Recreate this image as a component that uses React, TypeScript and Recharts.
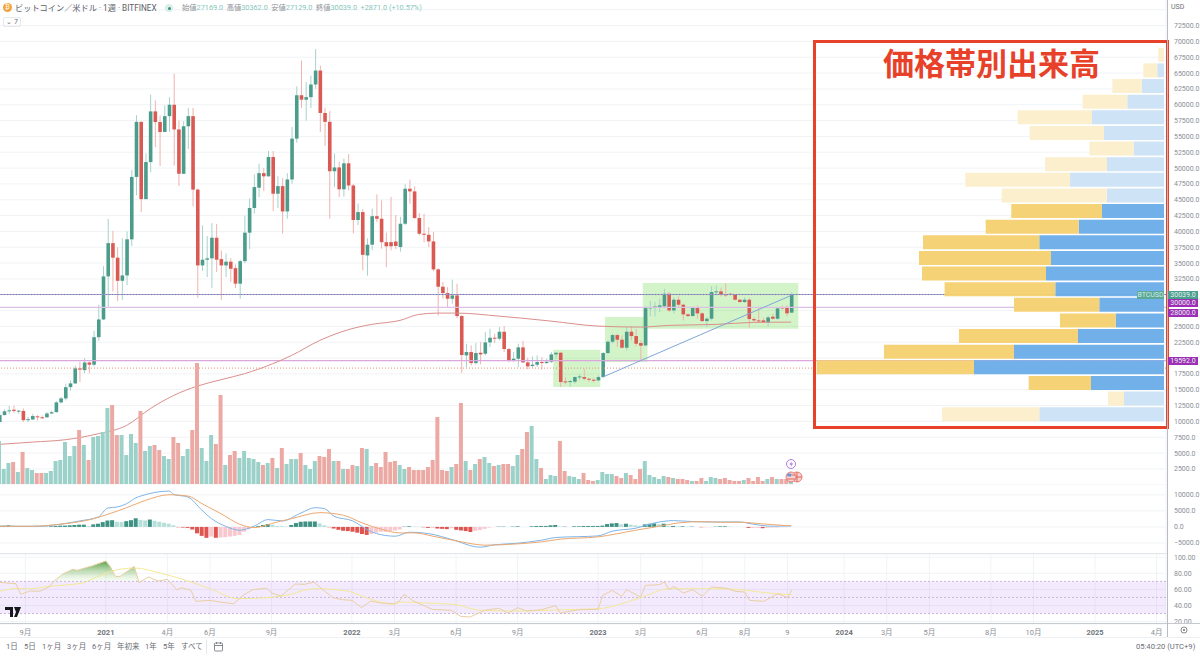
import {
  Area,
  Bar,
  BarChart,
  CartesianGrid,
  Cell,
  ComposedChart,
  Line,
  ReferenceArea,
  ReferenceLine,
  XAxis,
  YAxis,
} from 'recharts';

const FONT = 'Roboto, "Noto Sans CJK JP", sans-serif';
const WEEK_COUNT = 248;

// weekly candles
const candleOpen = [
  9900, 11000, 11600, 11850, 11650, 11650, 10200, 10300, 10800, 10650,
  10650, 11250, 11470, 13000, 13630, 15420, 16000, 18370, 18100, 19300,
  18950, 23300, 26100, 32900, 38150, 35850, 32200, 33050, 38750, 48600,
  57300, 45100, 50950, 58950, 57270, 55700, 58200, 60000, 56100, 49100,
  56600, 58200, 46600, 34630, 35530, 35750, 39000, 35630, 34630, 35220,
  34200, 31750, 35300, 39800, 43700, 46900, 49200, 48700, 51750, 45950,
  47150, 43150, 48200, 54650, 61500, 60800, 61200, 63200, 65400, 58700,
  57300, 49500, 50100, 46650, 50750, 47250, 41800, 43050, 36200, 37900,
  42400, 42000, 38300, 38300, 38400, 37528, 41212, 46738, 46317, 42107,
  39633, 39470, 38423, 34002, 31265, 30265, 29370, 29896, 26633, 20424,
  20950, 19212, 20842, 20686, 22475, 23213, 23055, 24160, 21423, 19528,
  19897, 21687, 19318, 18739, 18950, 19370, 19212, 19423, 20581, 20842,
  16318, 16213, 16266, 17000, 17000, 16740, 16580, 16477, 17000, 20792,
  22581, 23634, 22897, 21634, 24160, 23476, 22370, 22002, 27845, 27897,
  28055, 28160, 30160, 27528, 29213, 28423, 26897, 26633, 28055, 27055,
  25844, 26213, 30423, 30529, 30055, 30160, 30000, 29213, 28844, 29213,
  26160, 25950, 25950, 25686, 26528, 26213, 28055, 27950, 27169,
];
const candleHigh = [
  11400, 11900, 12450, 12480, 11800, 12050, 10700, 11200, 11000, 10950,
  11500, 11700, 13200, 13850, 15950, 16480, 18800, 19450, 20000, 19450,
  24300, 28400, 34500, 42000, 40100, 37500, 38900, 40000, 49700, 58350,
  57300, 52300, 61600, 60700, 58300, 59900, 61200, 64900, 57500, 57400,
  59500, 59500, 46800, 40950, 39250, 41300, 41200, 37000, 36500, 35800,
  34800, 35500, 42500, 45200, 49000, 50700, 50000, 52700, 52700, 48700,
  48400, 49200, 56500, 62900, 67000, 63600, 64600, 68800, 66200, 59500,
  59000, 52300, 51000, 51500, 52200, 47500, 44400, 43500, 38900, 43600,
  45850, 44900, 39800, 45450, 42600, 42300, 47528, 48160, 47100, 42900,
  42790, 40686, 39900, 34200, 32000, 31200, 32370, 31740, 26800, 22265,
  22000, 22370, 22530, 24107, 24634, 23845, 24897, 25055, 21630, 20950,
  22265, 22687, 20055, 20266, 20424, 20160, 19897, 20950, 20950, 20950,
  16953, 16581, 17107, 17423, 18318, 16896, 16896, 17265, 20950, 22792,
  23845, 23845, 23581, 24897, 25000, 24634, 22792, 28160, 29000, 28844,
  29370, 30950, 30423, 29633, 29738, 28581, 27107, 28160, 28318, 27265,
  26476, 31370, 31476, 31107, 31845, 30265, 30160, 29370, 29633, 29528,
  26476, 28055, 26371, 26739, 26997, 28055, 28318, 28318, 30362,
];
const candleLow = [
  9900, 10950, 11150, 11350, 11200, 9900, 9900, 10250, 10150, 10400,
  10550, 11200, 11350, 12800, 13300, 14850, 15900, 16200, 17600, 17600,
  18700, 22700, 26000, 27900, 30500, 29000, 29200, 31500, 37700, 45700,
  43050, 45100, 49350, 53300, 50300, 55700, 55700, 50400, 47150, 49100,
  53000, 43950, 29500, 33800, 32800, 31050, 33600, 29200, 32800, 32000,
  31050, 29350, 35000, 37200, 42800, 45400, 46350, 48600, 43200, 43700,
  39650, 42000, 47500, 54000, 59500, 57500, 59500, 62500, 55700, 53500,
  42000, 47000, 45400, 45500, 46500, 39700, 41000, 33850, 33000, 37000,
  41500, 37270, 34350, 37000, 37200, 36800, 41000, 44370, 42000, 39400,
  38300, 37528, 33700, 26700, 29370, 27950, 28580, 26300, 17633, 18580,
  18850, 19002, 19000, 20424, 21739, 22370, 22791, 20950, 19370, 19423,
  18580, 19212, 18213, 18476, 18580, 18160, 19107, 19212, 19897, 15424,
  15844, 15424, 15949, 16581, 16476, 16213, 16160, 16372, 16897, 20686,
  22265, 21739, 21476, 21213, 22791, 21845, 19529, 21845, 26580, 26580,
  27265, 28055, 27265, 27002, 28055, 25949, 26476, 26580, 26213, 25686,
  24897, 25949, 29896, 29738, 29633, 29896, 29107, 28791, 28686, 24792,
  25686, 25528, 25528, 24997, 26055, 26055, 27633, 26581, 27129,
];
const candleClose = [
  11000, 11600, 11750, 11650, 11700, 10200, 10350, 10850, 10650, 10600,
  11250, 11450, 13000, 13630, 15400, 16000, 18370, 18180, 19300, 18950,
  23300, 26100, 32900, 38150, 35850, 32200, 33050, 38750, 48600, 57300,
  45100, 50950, 58950, 57270, 55700, 58200, 60000, 56100, 49100, 56600,
  58200, 46600, 34630, 35530, 35750, 39000, 35530, 34630, 35220, 34100,
  31750, 35300, 39800, 43700, 47000, 49200, 48700, 51750, 45950, 47150,
  43150, 48200, 54650, 61500, 60800, 61200, 63200, 65400, 58700, 57300,
  49500, 50100, 46650, 50750, 47250, 41800, 43050, 36300, 37900, 42400,
  42000, 38300, 37650, 37650, 37700, 41212, 46738, 46317, 42107, 39633,
  39470, 38423, 34002, 31265, 30265, 29370, 29896, 26633, 20476, 20950,
  19212, 20792, 20580, 22475, 23213, 23055, 24160, 21423, 19528, 19897,
  21687, 19318, 18686, 18950, 19370, 19212, 19423, 20581, 20842, 16213,
  16160, 16370, 17000, 17100, 16740, 16580, 16424, 17000, 20792, 22581,
  23634, 22897, 21634, 24160, 23476, 22265, 21950, 27897, 28055, 28160,
  28318, 30160, 27528, 29213, 28423, 26897, 26633, 28055, 27055, 25844,
  26213, 30423, 30529, 30055, 30000, 30000, 29213, 28844, 29213, 26160,
  25950, 25844, 25686, 26423, 26213, 27844, 27845, 27055, 30039,
];
const volumes = [
  43, 15, 21, 22, 12, 32, 16, 14, 11, 11, 11, 13, 23, 24, 42, 28, 38, 54, 39, 24,
  47, 48, 52, 76, 79, 49, 49, 29, 50, 41, 73, 33, 38, 39, 34, 28, 25, 47, 41, 28,
  35, 54, 121, 36, 23, 49, 40, 89, 19, 29, 33, 26, 33, 26, 25, 22, 19, 21, 26, 16,
  36, 20, 25, 25, 31, 19, 15, 23, 28, 27, 35, 23, 23, 15, 15, 19, 18, 36, 35, 18,
  21, 17, 32, 22, 23, 19, 15, 17, 14, 14, 14, 17, 24, 67, 14, 13, 17, 20, 81, 23,
  14, 20, 25, 27, 21, 18, 19, 20, 20, 18, 29, 35, 52, 58, 25, 16, 5, 9, 8, 43,
  13, 8, 7, 5, 11, 4, 3, 4, 12, 10, 10, 8, 6, 11, 9, 5, 15, 23, 9, 7,
  5, 8, 7, 6, 5, 5, 4, 3, 3, 6, 3, 7, 6, 5, 6, 4, 3, 3, 4, 6,
  3, 7, 3, 5, 7, 5, 5, 5, 4,
];

const maWeeks = [0, 7, 14, 21, 27, 32, 37, 42, 47, 52, 58, 62, 68, 74, 79, 85, 89, 93, 97, 106, 117, 127, 136, 142, 152, 160, 168];
const maValues = [6368, 6731, 7110, 8058, 9368, 12005, 14105, 15574, 16584, 17532, 19111, 20421, 22790, 24479, 25316, 25948, 26895, 27100, 27100, 26627, 25838, 25048, 24890, 25158, 25316, 25632, 25680];

const macdHist = [
  400, 400, 500, 400, 200, 100, 100, 100, 100, 100, 100, 200, 300, 400, 400, 500, 600, 700, 700, 300,
  800, 1000, 1500, 2000, 2100, 1600, 1500, 1800, 2100, 2700, 2200, 2000, 2300, 1900, 1600, 1300, 1000, 500, -100, -200,
  -300, -800, -2000, -2800, -3400, -3000, -3400, -3300, -3200, -3000, -2800, -2500, -1500, -700, -200, 300, 600, 900, 700, 300,
  200, 100, 600, 1200, 1600, 1700, 1700, 1700, 1100, 500, -100, -500, -900, -1200, -1300, -1500, -1800, -2200, -2500, -2200,
  -1800, -1500, -1500, -1300, -1100, -800, 100, 200, 100, 50, -100, -300, -300, -500, -600, -700, -400, -900, -1100, -1300,
  -1600, -1200, -1000, -600, -200, 0, 100, 100, 0, 100, 200, 0, 0, 200, 300, 300, 300, 500, 600, 100,
  100, 0, 200, 200, 300, 300, 300, 300, 400, 900, 1100, 1200, 800, 1000, 700, 500, 300, 800, 1000, 1100,
  800, 1000, 300, 300, 200, 200, 100, 100, 0, -100, -100, -100, 100, 200, 200, 100, 0, 0, 0, -300,
  -300, -300, -400, -300, -200, -200, -100, -100, 0,
];
const macdWeeks = [0, 7, 13, 17, 21, 23, 25, 27, 29, 30, 33, 36, 37, 40, 43, 45, 48, 51, 54, 57, 60, 64, 67, 69, 71, 75, 78, 80, 84, 87, 91, 96, 102, 105, 110, 115, 118, 127, 130, 135, 139, 143, 149, 153, 157, 160, 164, 168];
const macdValues = [207, 207, 828, 1863, 3105, 5900, 6210, 7245, 9108, 9626, 10764, 11178, 10143, 9315, 5175, 2588, 207, -1035, 207, 2277, 1863, 4347, 6003, 5693, 3312, 1863, -828, -2070, -2898, -1656, -2070, -3933, -6314, -5589, -5072, -4140, -3312, -2795, -1346, -414, 1242, 1967, 1553, 1553, 1553, 828, 207, 311];
const signalWeeks = [0, 7, 14, 18, 23, 27, 31, 36, 40, 43, 47, 51, 54, 59, 62, 68, 73, 77, 81, 85, 88, 92, 98, 103, 110, 115, 119, 127, 135, 140, 144, 149, 153, 157, 162, 168];
const signalValues = [207, 207, 1035, 1863, 3933, 6003, 8280, 10040, 9626, 7245, 4140, 828, -207, 1553, 2588, 4451, 3623, 1242, -725, -1863, -1863, -2898, -4658, -5693, -5279, -4658, -3830, -3105, -1035, 207, 1242, 1656, 1449, 1449, 932, 311];

const rsiWeeks = [0, 2, 4, 5, 7, 9, 11, 12, 14, 16, 17, 18, 20, 23, 24, 25, 26, 29, 30, 32, 34, 36, 38, 39, 41, 42, 45, 47, 50, 52, 54, 57, 58, 60, 63, 65, 67, 69, 71, 73, 75, 77, 79, 81, 84, 85, 86, 88, 92, 96, 98, 100, 103, 106, 108, 110, 112, 115, 118, 119, 123, 127, 128, 130, 132, 133, 136, 137, 140, 141, 142, 143, 145, 147, 149, 151, 154, 156, 158, 159, 162, 165, 167, 168];
const rsiValues = [69.2, 67.9, 67.1, 53.9, 58, 57.6, 63, 70, 79.5, 84.9, 83.7, 85.7, 89, 95.3, 87.8, 76.2, 76.2, 88.6, 68.3, 75.4, 70.4, 72.5, 59.6, 62.1, 58.8, 45.2, 46.4, 44.3, 42.3, 52.6, 59.6, 61.7, 55.5, 51.8, 66.7, 66.3, 69.2, 58.8, 49.7, 47.2, 46.4, 37.3, 45.6, 43.1, 42.3, 45.2, 53.9, 45.6, 35.2, 34, 26.5, 25.7, 34, 36.5, 30.7, 37.3, 33.1, 34.8, 39.8, 30.7, 34.8, 35.2, 52.6, 58.8, 51.4, 59.6, 50.5, 65, 65.9, 69.2, 59.6, 63.8, 55.5, 59.6, 51.4, 63, 61.7, 57.6, 56.7, 46.4, 45.2, 54.7, 49.7, 59.6];
const rsiMaWeeks = [0, 4, 7, 11, 18, 21, 25, 29, 35, 40, 45, 51, 57, 61, 67, 74, 78, 84, 85, 89, 97, 102, 110, 120, 127, 136, 142, 149, 156, 163, 168];
const rsiMaValues = [56.7, 60.9, 60.9, 63.8, 67.9, 75.4, 83.7, 86.6, 79.5, 71.2, 60.9, 48.5, 49.7, 52.6, 60.9, 58, 49.7, 41.4, 44.3, 43.5, 41, 34, 33.1, 34.8, 36, 49.7, 60.9, 60.9, 60.1, 55.5, 53.4];

// volume by price, top row first
const profileBands = [68000, 65500, 63000, 60500, 58000, 55600, 53100, 50600, 48100, 45600, 43200, 40700, 38200, 35700, 33200, 30800, 28300, 25800, 23300, 20800, 18400, 15900, 13400, 10900];
const profileBuy = [0, 6.7, 22.3, 36.7, 72, 60, 30.3, 57, 94, 57.3, 62, 85.3, 124.7, 113, 118, 108.7, 64.7, 48.3, 86, 150, 190, 73, 40, 124.7];
const profileSell = [5.7, 14, 29.3, 44.7, 74.3, 74.3, 44.3, 62, 104.7, 105, 90.7, 93, 116.3, 132, 124, 110.7, 85.3, 55.7, 119, 130, 157.3, 62.3, 16, 97.3];
const valueAreaBands = [43200, 40700, 38200, 35700, 33200, 30800, 28300, 25800, 23300, 20800, 18400, 15900];

// 30000, 27500 and 20000 sit under the price tags, so they only get a grid line
const priceTicks = [72500, 70000, 67500, 65000, 62500, 60000, 57500, 55000, 52500, 50000, 47500, 45000, 42500, 40000, 37500, 35000, 32500, 25000, 22500, 17500, 15000, 12500, 10000, 7500, 5000, 2500];
const priceGrid = [75000, 72500, 70000, 67500, 65000, 62500, 60000, 57500, 55000, 52500, 50000, 47500, 45000, 42500, 40000, 37500, 35000, 32500, 30000, 27500, 25000, 22500, 20000, 17500, 15000, 12500, 10000, 7500, 5000, 2500];
const macdTicks = [10000, 5000, 0, -5000];
const rsiTicks = [100, 80, 60, 40, 20];
const axisWeeks = [6, 23, 36, 45, 58, 75, 84, 97, 110, 127, 136, 149, 158, 167, 179, 188, 197, 210, 219, 232, 245];
const axisLabels = ['9月', '2021', '4月', '6月', '9月', '2022', '3月', '6月', '9月', '2023', '3月', '6月', '8月', '9', '2024', '3月', '5月', '8月', '10月', '2025', '4月'];
const rangeLabels = ['1日', '5日', '1ヶ月', '3ヶ月', '6ヶ月', '年初来', '1年', '5年', 'すべて'];
const rangeLefts = [6, 24, 42, 67, 92, 117, 145, 163, 181];
const ohlcLabels = ['始値', '高値', '安値', '終値'];
const ohlcValues = ['27169.0', '30362.0', '27129.0', '30039.0'];

const pick = (weeks: number[], values: number[], week: number) => {
  const at = weeks.indexOf(week);
  return at < 0 ? null : values[at];
};

const rows = Array.from({ length: WEEK_COUNT }, (_, week) => {
  const hasCandle = week < candleOpen.length;
  const rsi = pick(rsiWeeks, rsiValues, week);
  return {
    week,
    open: hasCandle ? candleOpen[week] : null,
    close: hasCandle ? candleClose[week] : null,
    high: hasCandle ? candleHigh[week] : null,
    low: hasCandle ? candleLow[week] : null,
    range: hasCandle ? [candleLow[week], candleHigh[week]] : null,
    volume: hasCandle ? volumes[week] : null,
    ma: pick(maWeeks, maValues, week),
    hist: hasCandle ? macdHist[week] : null,
    macd: pick(macdWeeks, macdValues, week),
    signal: pick(signalWeeks, signalValues, week),
    rsi,
    rsiMa: pick(rsiMaWeeks, rsiMaValues, week),
    rsiOver: rsi !== null && week >= 12 && week <= 30 ? [70, Math.max(rsi, 70)] : null,
  };
});

const profileRows = profileBands.map((band, i) => ({
  band,
  buy: profileBuy[i],
  sell: profileSell[i],
}));

const histColor = (i: number) => {
  const h = macdHist[i];
  const prev = i > 0 ? macdHist[i - 1] : 0;
  if (h >= 0) return h >= prev ? '#3f9283' : '#b5dfd9';
  return h < prev ? '#e0544f' : '#f9c8cf';
};

function Candle(props: any) {
  const { x, y, width, height, payload } = props;
  if (!payload || payload.open === null || !Number.isFinite(y)) return <g />;
  const up = payload.close >= payload.open;
  const unit = Math.abs(height) / (payload.high - payload.low);
  const top = Math.min(y, y + height);
  const bodyTop = top + (payload.high - Math.max(payload.open, payload.close)) * unit;
  const bodyHeight = Math.max(Math.abs(payload.close - payload.open) * unit, 1);
  return (
    <g>
      <rect x={x + width / 2 - 0.5} y={top} width={1} height={Math.abs(height)} fill={up ? '#a6d3cb' : '#f0b3ae'} />
      <rect x={x} y={bodyTop} width={width} height={bodyHeight} fill={up ? '#4c9c8c' : '#da5a53'} />
    </g>
  );
}

function TimeTick(props: any) {
  const { x, y, payload } = props;
  const label = axisLabels[axisWeeks.indexOf(payload.value)];
  const isYear = label && label.length === 4;
  return (
    <text x={x} y={y + 3} textAnchor="middle" fontSize={7.5} fontFamily={FONT} fontWeight={isYear ? 700 : 400} fill={isYear ? '#70747c' : '#8a8e96'}>
      {label}
    </text>
  );
}

const tickStyle = { fontSize: 7, fill: '#8a8e96', fontFamily: FONT };
const GRID = '#f0f3f6';

function Tag({ top, left, width, color, text, fg = '#e9f3f0' }: any) {
  return (
    <div style={{ position: 'absolute', top, left, width, height: 8, background: color, color: fg, fontSize: 7, lineHeight: '8px', textAlign: 'center', fontFamily: FONT }}>
      {text}
    </div>
  );
}

function Panes() {
  return (
    <>
      <div style={{ position: 'absolute', left: -3, top: 0 }}>
        <ComposedChart width={1203} height={484} data={rows} margin={{ top: 0, right: 0, bottom: 0, left: 0 }}>
          <CartesianGrid stroke={GRID} strokeWidth={1} yAxisId="price" horizontalValues={priceGrid} />
          <XAxis dataKey="week" ticks={axisWeeks} interval={0} tick={false} axisLine={false} tickLine={false} height={0} />
          <YAxis yAxisId="price" orientation="right" width={34} domain={[116, 76539]} ticks={priceTicks} interval={0} tick={tickStyle} tickFormatter={(v: number) => v.toFixed(1)} axisLine={false} tickLine={false} />
          <ReferenceLine yAxisId="price" y={28000} stroke="#dcc0e6" strokeWidth={1.4} />
          <ReferenceLine yAxisId="price" y={19592} stroke="#dba7dd" strokeWidth={1.4} />
          <ReferenceLine yAxisId="price" y={18416} stroke="#ea8f72" strokeWidth={1} strokeDasharray="1 2" />
          <Bar yAxisId="price" dataKey="range" barSize={3.6} shape={Candle} isAnimationActive={false} />
          <Line yAxisId="price" dataKey="ma" type="monotone" connectNulls dot={false} stroke="#db8f8c" strokeWidth={1} isAnimationActive={false} />
          <ReferenceLine yAxisId="price" y={30039} stroke="#a89ccb" strokeWidth={1} />
          <ReferenceLine yAxisId="price" y={30039} stroke="#6f7fb0" strokeWidth={1} strokeDasharray="1 2" />
          <ReferenceArea yAxisId="price" x1={118} x2={127} y1={15424} y2={21318} fill="#7adf5c" fillOpacity={0.33} stroke="none" />
          <ReferenceArea yAxisId="price" x1={129} x2={137} y1={19370} y2={26476} fill="#7adf5c" fillOpacity={0.33} stroke="none" />
          <ReferenceArea yAxisId="price" x1={137} x2={169} y1={24634} y2={31844} fill="#7adf5c" fillOpacity={0.33} stroke="none" />
          <ReferenceLine yAxisId="price" segment={[{ x: 128, y: 17000 }, { x: 168, y: 29897 }]} stroke="#80a6d8" strokeWidth={1} />
        </ComposedChart>
      </div>

      <div style={{ position: 'absolute', left: -3, top: 0 }}>
        <BarChart width={1203} height={484} data={rows} margin={{ top: 0, right: 34, bottom: 0, left: 0 }}>
          <XAxis dataKey="week" hide />
          <YAxis hide domain={[0, 484]} />
          <Bar dataKey="volume" barSize={4} isAnimationActive={false}>
            {rows.map((r) => (
              <Cell key={r.week} fill={r.close !== null && r.close >= (r.open as number) ? '#9bd1c8' : '#eca9a4'} />
            ))}
          </Bar>
        </BarChart>
      </div>

      <div style={{ position: 'absolute', left: -3, top: 484 }}>
        <ComposedChart width={1203} height={69.5} data={rows} margin={{ top: 0, right: 0, bottom: 0, left: 0 }}>
          <CartesianGrid stroke={GRID} strokeWidth={1} />
          <XAxis dataKey="week" ticks={axisWeeks} interval={0} tick={false} axisLine={false} tickLine={false} height={0} />
          <YAxis orientation="right" width={34} domain={[-8290, 13385]} ticks={macdTicks} interval={0} tick={tickStyle} tickFormatter={(v: number) => (v < 0 ? '−' + Math.abs(v).toFixed(1) : v.toFixed(1))} axisLine={false} tickLine={false} />
          <Bar dataKey="hist" barSize={4} isAnimationActive={false}>
            {rows.map((r) => (
              <Cell key={r.week} fill={r.week < macdHist.length ? histColor(r.week) : 'none'} />
            ))}
          </Bar>
          <Line dataKey="macd" type="monotone" connectNulls dot={false} stroke="#7fb5e8" strokeWidth={1} isAnimationActive={false} />
          <Line dataKey="signal" type="monotone" connectNulls dot={false} stroke="#eda870" strokeWidth={1} isAnimationActive={false} />
        </ComposedChart>
      </div>

      <div style={{ position: 'absolute', left: -3, top: 553.5 }}>
        <ComposedChart width={1203} height={84} data={rows} margin={{ top: 0, right: 0, bottom: 0, left: 0 }}>
          <defs>
            <linearGradient id="rsiGreen" x1="0" y1="0" x2="0" y2="1">
              <stop offset="0%" stopColor="#4f9a3e" stopOpacity={0.95} />
              <stop offset="100%" stopColor="#bfe3ad" stopOpacity={0.1} />
            </linearGradient>
          </defs>
          <CartesianGrid stroke={GRID} strokeWidth={1} />
          <XAxis dataKey="week" ticks={axisWeeks} interval={0} tick={TimeTick} axisLine={false} tickLine={false} height={14} />
          <YAxis orientation="right" width={34} domain={[17, 104]} ticks={rsiTicks} interval={0} tick={tickStyle} tickFormatter={(v: number) => v.toFixed(2)} axisLine={false} tickLine={false} />
          <ReferenceArea x1={0} x2={247} y1={30} y2={70} fill="#b77af0" fillOpacity={0.16} stroke="none" />
          <ReferenceLine y={70} stroke="#c9b6dc" strokeDasharray="2 2" />
          <ReferenceLine y={50} stroke="#c9b6dc" strokeDasharray="2 2" />
          <ReferenceLine y={30} stroke="#c9b6dc" strokeDasharray="2 2" />
          <Area dataKey="rsiOver" type="linear" connectNulls stroke="none" fill="url(#rsiGreen)" fillOpacity={1} dot={false} activeDot={false} isAnimationActive={false} />
          <Line dataKey="rsiMa" type="monotone" connectNulls dot={false} stroke="#f3e997" strokeWidth={1} isAnimationActive={false} />
          <Line dataKey="rsi" type="linear" connectNulls dot={false} stroke="#e9d0a2" strokeWidth={1} isAnimationActive={false} />
        </ComposedChart>
      </div>
    </>
  );
}

function Profile() {
  return (
    <div style={{ position: 'absolute', left: 816, top: 47.3 }}>
      <BarChart width={348} height={375} data={profileRows} layout="vertical" barCategoryGap="5%" margin={{ top: 0, right: 0, bottom: 0, left: 0 }}>
        <XAxis type="number" hide reversed domain={[0, 348]} />
        <YAxis type="category" dataKey="band" hide />
        <Bar dataKey="buy" stackId="p" fillOpacity={0.96} isAnimationActive={false}>
          {profileRows.map((r) => (
            <Cell key={r.band} fill={valueAreaBands.includes(r.band) ? '#6cade8' : '#cde2f6'} />
          ))}
        </Bar>
        <Bar dataKey="sell" stackId="p" fillOpacity={0.96} isAnimationActive={false}>
          {profileRows.map((r) => (
            <Cell key={r.band} fill={valueAreaBands.includes(r.band) ? '#f5d06f' : '#fbeecb'} />
          ))}
        </Bar>
      </BarChart>
    </div>
  );
}

function Header() {
  return (
    <div style={{ fontFamily: FONT }}>
      <div style={{ position: 'absolute', left: 3, top: 3, width: 9, height: 9, borderRadius: 5, background: '#f2a23c', color: '#fff', fontSize: 6.5, lineHeight: '9px', textAlign: 'center' }}>₿</div>
      <div style={{ position: 'absolute', left: 15, top: 2, fontSize: 8.2, lineHeight: '12px', color: '#5c6068', whiteSpace: 'nowrap' }}>ビットコイン／米ドル · 1週 · BITFINEX</div>
      <div style={{ position: 'absolute', left: 165, top: 4, width: 8, height: 8, borderRadius: 4, background: '#d9efe9' }} />
      <div style={{ position: 'absolute', left: 167.5, top: 6.5, width: 3, height: 3, borderRadius: 2, background: '#3f8f7f' }} />
      <div style={{ position: 'absolute', left: 182, top: 3, display: 'flex', gap: 3.5, fontSize: 7.3, lineHeight: '10px', whiteSpace: 'nowrap' }}>
        {ohlcLabels.map((label, i) => (
          <span key={label}>
            <span style={{ color: '#8d9198' }}>{label}</span>
            <span style={{ color: '#86c6ba' }}>{ohlcValues[i]}</span>
          </span>
        ))}
        <span style={{ color: '#86c6ba' }}>+2871.0 (+10.57%)</span>
      </div>
      <div style={{ position: 'absolute', left: 3, top: 17, width: 16, height: 8, border: '1px solid #e6e8eb', borderRadius: 2, fontSize: 7, lineHeight: '8px', textAlign: 'center', color: '#6a6e76' }}>⌄ 7</div>
      <div style={{ position: 'absolute', left: 1171, top: 3, fontSize: 7, lineHeight: '9px', color: '#6a6e76' }}>USD</div>

      <div style={{ position: 'absolute', left: 813, top: 39.5, width: 350, height: 383, border: '3px solid #e8412a' }} />
      <div style={{ position: 'absolute', left: 883, top: 42, width: 220, fontFamily: '"Noto Sans CJK JP"', fontWeight: 700, fontSize: 31, lineHeight: '40px', color: '#e8412a', whiteSpace: 'nowrap' }}>価格帯別出来高</div>

      <Tag top={290.5} left={1137} width={27} color="#5aa796" text="BTCUSD" fg="#d4ebe5" />
      <Tag top={290.5} left={1168} width={30} color="#4a9f8e" text="30039.0" />
      <Tag top={299} left={1168} width={30} color="#9c2fb5" text="30000.0" />
      <Tag top={308.5} left={1168} width={30} color="#9c2fb5" text="28000.0" />
      <Tag top={357} left={1168} width={30} color="#9c2fb5" text="19592.0" />
    </div>
  );
}

function Footer() {
  return (
    <div style={{ fontFamily: FONT }}>
      <div style={{ position: 'absolute', left: 0, top: 553, width: 1167, height: 1, background: '#e3e6ea' }} />
      <div style={{ position: 'absolute', left: 0, top: 623, width: 1200, height: 1, background: '#c6cad0' }} />
      <div style={{ position: 'absolute', left: 0, top: 637, width: 1200, height: 1, background: '#eef0f3' }} />
      <div style={{ position: 'absolute', left: 1167, top: 0, width: 1, height: 637, background: '#b8bbc1' }} />
      {rangeLabels.map((label, i) => (
        <div key={label} style={{ position: 'absolute', left: rangeLefts[i], top: 642, fontSize: 7.5, lineHeight: '10px', color: '#6a6e76', whiteSpace: 'nowrap' }}>{label}</div>
      ))}
      <div style={{ position: 'absolute', left: 206, top: 640, width: 1, height: 14, background: '#e3e6ea' }} />
      <div style={{ position: 'absolute', left: 1136, top: 642, fontSize: 7.6, lineHeight: '10px', color: '#6a6e76', whiteSpace: 'nowrap' }}>05:40:20 (UTC+9)</div>
      <svg style={{ position: 'absolute', left: 0, top: 0 }} width={1200} height={656}>
        <path d="M5 607h8v10h-3v-7h-5z M14 607h7l-4 10h-3l2-5-2-5z" fill="#16181c" />
        <rect x={214.5} y={643} width={8} height={8} rx={1} fill="none" stroke="#6a6e76" strokeWidth={0.8} />
        <path d="M214.5 645.5h8 M216.5 642v2 M220.5 642v2" stroke="#6a6e76" strokeWidth={0.8} fill="none" />
        <circle cx={1184} cy={630} r={3} fill="none" stroke="#6a6e76" strokeWidth={0.8} />
        <circle cx={1184} cy={630} r={1} fill="#6a6e76" />
        <circle cx={791} cy={464} r={4.5} fill="#fff" stroke="#9a5fd0" strokeWidth={0.8} />
        <path d="M792 461l-2.5 3.5h2l-1 2.7 2.5-3.6h-2z" fill="#9a5fd0" />
        <circle cx={797} cy={477} r={5} fill="#f6d4d2" stroke="#e0645c" strokeWidth={0.8} />
        <path d="M792 477h10 M797 472v10" stroke="#e0645c" strokeWidth={1} />
        <circle cx={791} cy={477} r={5} fill="#f6d4d2" stroke="#e0645c" strokeWidth={0.8} />
        <path d="M787 475h8 M787 479h8" stroke="#e0645c" strokeWidth={1} />
        <rect x={787.5} y={473.5} width={3.5} height={3} fill="#5c9be0" />
      </svg>
    </div>
  );
}

export default function App() {
  return (
    <div style={{ position: 'absolute', left: 0, top: 0, width: 1200, height: 656, overflow: 'hidden', background: '#fff' }}>
      <Panes />
      <Profile />
      <Header />
      <Footer />
    </div>
  );
}
